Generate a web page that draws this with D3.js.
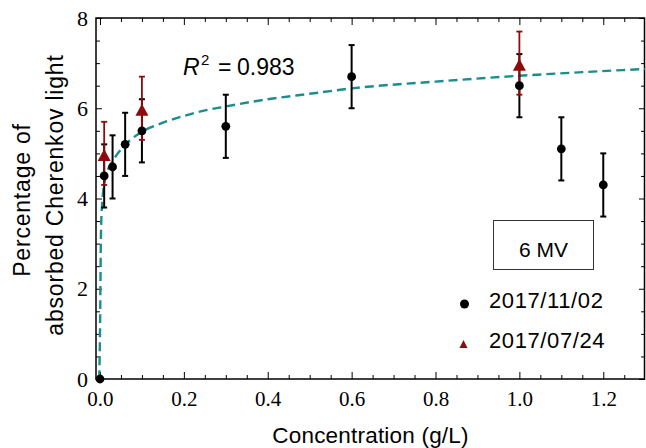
<!DOCTYPE html>
<html>
<head>
<meta charset="utf-8">
<script src="https://cdn.jsdelivr.net/npm/d3@7"></script>
<style>
  body { margin: 0; background: #fff; }
  svg { display: block; }
</style>
</head>
<body>
<div id="chart"></div>
<script>
// Absorbed Cherenkov light vs. concentration, 6 MV beam

// 2017/11/02 measurements
const conc1102 = [0, 0.01, 0.03, 0.06, 0.1, 0.3, 0.6, 1.0, 1.1, 1.2];
const pct1102 = [0, 4.5, 4.7, 5.2, 5.5, 5.6, 6.7, 6.5, 5.1, 4.3];
const err1102 = [0, 0.7, 0.7, 0.7, 0.7, 0.7, 0.7, 0.7, 0.7, 0.7];

// 2017/07/24 measurements
const conc0724 = [0.01, 0.1, 1.0];
const pct0724 = [5.0, 6.0, 7.0];
const err0724 = [0.7, 0.7, 0.7];

// dashed fit curve
const fitConc = [-0.0017, 0.0, 0.0024, 0.0048, 0.008, 0.014, 0.032, 0.056, 0.095, 0.15, 0.2, 0.24, 0.3, 0.4, 0.5, 0.6, 0.8, 1.0, 1.15, 1.3];
const fitPct = [0, 1.0, 3.24, 3.82, 4.19, 4.49, 4.85, 5.15, 5.45, 5.68, 5.83, 5.93, 6.04, 6.2, 6.32, 6.44, 6.59, 6.72, 6.8, 6.87];

const xMajorTicks = [0, 0.2, 0.4, 0.6, 0.8, 1.0, 1.2];
const yMajorTicks = [0, 2, 4, 6, 8];
const legendLabels = ['2017/11/02', '2017/07/24'];
const rSquared = '0.983';
const beamLabel = '6 MV';

const W = 646, H = 448;
const margin = { top: 18, right: 1, bottom: 69, left: 96 };

const black = '#000';
const red = '#8f0a0a';
const teal = '#1b8d8d';
const sans = 'Liberation Sans, Arial, sans-serif';
const serif = 'Liberation Serif, Times New Roman, serif';

const svg = d3.select('#chart').append('svg')
    .attr('width', W)
    .attr('height', H);

const x = d3.scaleLinear()
    .domain([-0.0095, 1.2995])
    .range([margin.left, W - margin.right]);
const y = d3.scaleLinear()
    .domain([0, 8])
    .range([H - margin.bottom, margin.top]);

const xMinor = d3.range(0, 1.3, 0.05).filter(v => !xMajorTicks.some(t => Math.abs(t - v) < 1e-6));
const yMinor = d3.range(0, 8, 0.5).filter(v => !yMajorTicks.includes(v));

// axes: ticks point inward on all four sides
function styleAxis(g) {
    g.select('.domain').remove();
    g.selectAll('line').attr('stroke', black).attr('stroke-width', 1);
}

const plotBottom = y(0), plotTop = y(8), plotLeft = x.range()[0], plotRight = x.range()[1];

svg.append('g')
    .attr('transform', `translate(0,${plotBottom})`)
    .call(d3.axisBottom(x).tickValues(xMajorTicks).tickSize(-7).tickPadding(12).tickFormat(d3.format('.1f')))
    .call(styleAxis)
    .call(g => g.selectAll('text').attr('font-family', serif).attr('font-size', 21).attr('fill', black));
svg.append('g')
    .attr('transform', `translate(0,${plotBottom})`)
    .call(d3.axisBottom(x).tickValues(xMinor).tickSize(-4).tickFormat(''))
    .call(styleAxis);
svg.append('g')
    .attr('transform', `translate(0,${plotTop})`)
    .call(d3.axisTop(x).tickValues(xMajorTicks).tickSize(-7).tickFormat(''))
    .call(styleAxis);
svg.append('g')
    .attr('transform', `translate(0,${plotTop})`)
    .call(d3.axisTop(x).tickValues(xMinor).tickSize(-4).tickFormat(''))
    .call(styleAxis);

svg.append('g')
    .attr('transform', `translate(${plotLeft},0)`)
    .call(d3.axisLeft(y).tickValues(yMajorTicks).tickSize(-6).tickPadding(8).tickFormat(d3.format('d')))
    .call(styleAxis)
    .call(g => g.selectAll('text').attr('font-family', serif).attr('font-size', 22).attr('fill', black));
svg.append('g')
    .attr('transform', `translate(${plotLeft},0)`)
    .call(d3.axisLeft(y).tickValues(yMinor).tickSize(-4).tickFormat(''))
    .call(styleAxis);
svg.append('g')
    .attr('transform', `translate(${plotRight},0)`)
    .call(d3.axisRight(y).tickValues(yMajorTicks).tickSize(-6).tickFormat(''))
    .call(styleAxis);
svg.append('g')
    .attr('transform', `translate(${plotRight},0)`)
    .call(d3.axisRight(y).tickValues(yMinor).tickSize(-4).tickFormat(''))
    .call(styleAxis);

// frame
svg.append('rect')
    .attr('x', plotLeft)
    .attr('y', plotTop)
    .attr('width', plotRight - plotLeft - 0.5)
    .attr('height', plotBottom - plotTop)
    .attr('fill', 'none')
    .attr('stroke', black)
    .attr('stroke-width', 1.5);

// fit curve
const fitData = fitConc.map((c, i) => ({ c, p: fitPct[i] }));
svg.append('path')
    .datum(fitData)
    .attr('fill', 'none')
    .attr('stroke', teal)
    .attr('stroke-width', 2.4)
    .attr('stroke-dasharray', '9,5')
    .attr('d', d3.line().x(d => x(d.c)).y(d => y(d.p)).curve(d3.curveMonotoneX));

// error bars
function drawErrorBars(conc, pct, err, color, width) {
    const data = conc.map((c, i) => ({ c, p: pct[i], e: err[i] })).filter(d => d.e > 0);
    const g = svg.append('g').attr('stroke', color).attr('stroke-width', width);
    g.selectAll('.bar').data(data).enter().append('line')
        .attr('x1', d => x(d.c)).attr('x2', d => x(d.c))
        .attr('y1', d => y(d.p - d.e)).attr('y2', d => y(d.p + d.e));
    g.selectAll('.capTop').data(data).enter().append('line')
        .attr('x1', d => x(d.c) - 3).attr('x2', d => x(d.c) + 3)
        .attr('y1', d => y(d.p + d.e)).attr('y2', d => y(d.p + d.e));
    g.selectAll('.capBot').data(data).enter().append('line')
        .attr('x1', d => x(d.c) - 3).attr('x2', d => x(d.c) + 3)
        .attr('y1', d => y(d.p - d.e)).attr('y2', d => y(d.p - d.e));
}

drawErrorBars(conc1102, pct1102, err1102, black, 2);
drawErrorBars(conc0724, pct0724, err0724, red, 1.8);

// markers
function trianglePath(w, h, dy) {
    return `M0,${-h / 2 + dy}L${w / 2},${h / 2 + dy}L${-w / 2},${h / 2 + dy}Z`;
}

svg.append('g').selectAll('circle')
    .data(conc1102.map((c, i) => ({ c, p: pct1102[i] })))
    .enter().append('circle')
    .attr('cx', d => x(d.c))
    .attr('cy', d => y(d.p))
    .attr('r', 4.4)
    .attr('fill', black);

svg.append('g').selectAll('path')
    .data(conc0724.map((c, i) => ({ c, p: pct0724[i] })))
    .enter().append('path')
    .attr('transform', d => `translate(${x(d.c)},${y(d.p)})`)
    .attr('d', trianglePath(13, 12, 1.5))
    .attr('fill', red);

// R^2 annotation
const r2 = svg.append('text')
    .attr('y', 75)
    .attr('font-family', sans)
    .attr('font-size', 23)
    .attr('fill', black);
r2.append('tspan').attr('x', 183).attr('font-style', 'italic').text('R');
r2.append('tspan').attr('x', 201).attr('font-size', 15).attr('dy', -10).text('2');
r2.append('tspan').attr('x', 218).attr('dy', 10).text('=');
r2.append('tspan').attr('x', 237).text(rSquared);

// beam box
svg.append('rect')
    .attr('x', 493.5)
    .attr('y', 220.5)
    .attr('width', 100)
    .attr('height', 49)
    .attr('fill', 'none')
    .attr('stroke', '#333')
    .attr('stroke-width', 1);
svg.append('text')
    .attr('x', 543.5)
    .attr('y', 257)
    .attr('text-anchor', 'middle')
    .attr('font-family', sans)
    .attr('font-size', 21)
    .attr('fill', black)
    .text(beamLabel);

// legend
const legend = svg.append('g').attr('font-family', sans).attr('font-size', 22).attr('fill', black);
legend.append('circle').attr('cx', 464.5).attr('cy', 304).attr('r', 4.5).attr('fill', black);
legend.append('path')
    .attr('transform', 'translate(463.5,344)')
    .attr('d', trianglePath(8, 8, 0))
    .attr('fill', red);
legend.selectAll('text')
    .data(legendLabels)
    .enter().append('text')
    .attr('x', 489)
    .attr('y', (d, i) => 307.5 + i * 40.5)
    .attr('letter-spacing', 0.6)
    .text(d => d);

// axis titles
svg.append('text')
    .attr('x', (plotLeft + plotRight) / 2)
    .attr('y', 443)
    .attr('text-anchor', 'middle')
    .attr('font-family', sans)
    .attr('font-size', 22.5)
    .attr('letter-spacing', 0.2)
    .attr('fill', black)
    .text('Concentration (g/L)');

const yTitle = ['Percentage of', 'absorbed Cherenkov light'];
svg.append('g').selectAll('text')
    .data(yTitle)
    .enter().append('text')
    .attr('transform', (d, i) => `translate(${i === 0 ? 30 : 63},${i === 0 ? 200 : 195}) rotate(-90)`)
    .attr('text-anchor', 'middle')
    .attr('font-family', sans)
    .attr('font-size', 23)
    .attr('letter-spacing', 0.8)
    .attr('fill', black)
    .text(d => d);
</script>
</body>
</html>
